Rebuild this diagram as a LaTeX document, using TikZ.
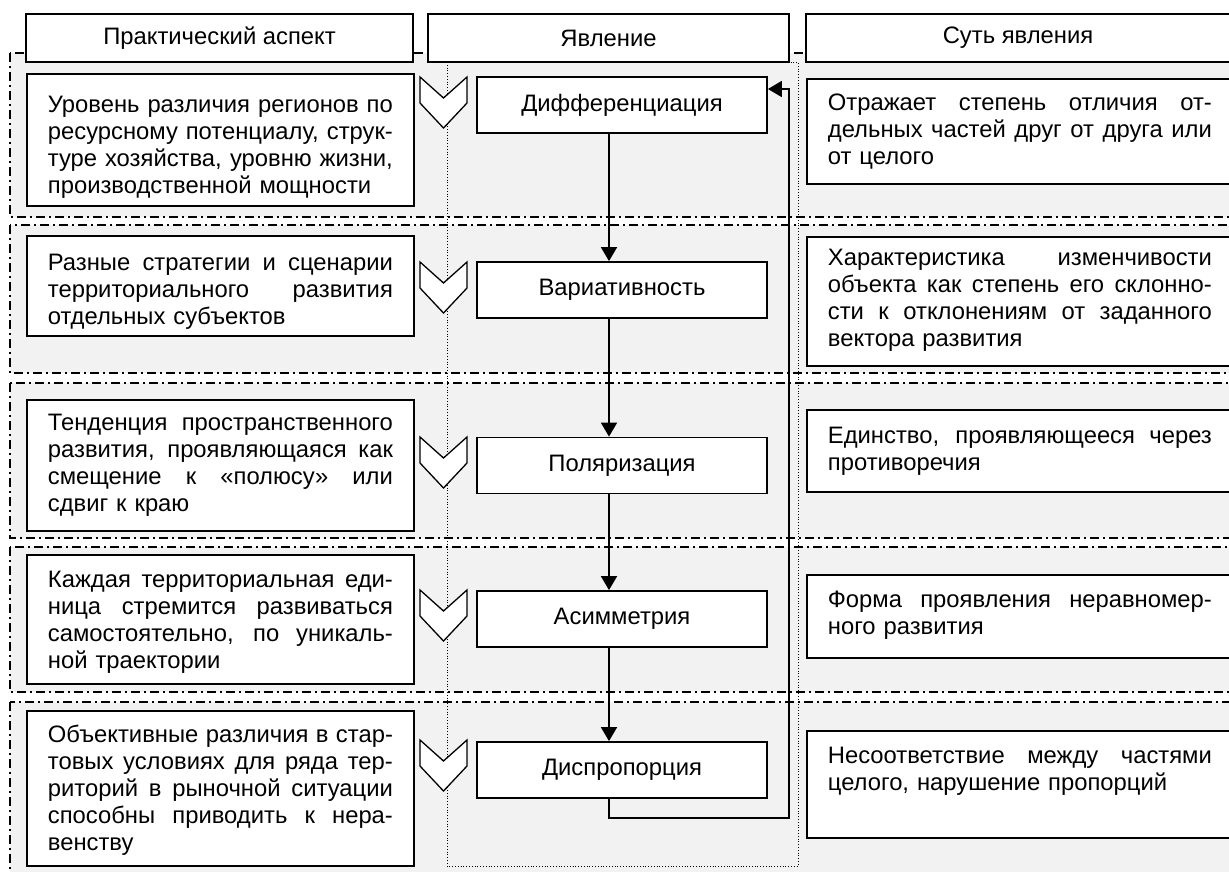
\documentclass[tikz,border=0pt]{standalone}
\usepackage{fontspec}
\setmainfont{Liberation Sans}
\usetikzlibrary{calc,arrows.meta}
\definecolor{bandgray}{HTML}{F2F2F2}
\def\chevron(#1,#2){\draw[line width=1.3pt, fill=white] (#1-23.5,#2) -- (#1,#2+21) -- (#1+23.5,#2) -- (#1+23.5,#2+26) -- (#1,#2+51) -- (#1-23.5,#2+26) -- cycle;}
% justified lines, left and right columns
\newcommand\jl[1]{\leavevmode\hbox to 345pt{\spaceskip=0.278em plus 1fil\relax #1}}
\newcommand\jr[1]{\leavevmode\hbox to 384pt{\spaceskip=0.278em plus 1fil\relax #1}}
\tikzset{
  band/.style={fill=bandgray, line width=1.2pt, dash pattern=on 9pt off 4pt on 2pt off 4pt},
  head/.style={draw, line width=1.8pt, fill=white, minimum height=48pt, inner sep=0pt, font=\fontsize{23.8}{27}\selectfont},
  midbox/.style={draw, line width=1.8pt, fill=white, minimum width=290pt, minimum height=56pt, inner sep=0pt, font=\fontsize{23.8}{27}\selectfont},
  txtbox/.style={draw, line width=1.8pt, fill=white, anchor=north west, inner xsep=21pt, inner ysep=0pt, align=left, font=\fontsize{23.8}{27}\selectfont},
  flow/.style={line width=1.8pt, -{Triangle[length=14pt,width=16pt]}},
}

\begin{document}
\begin{tikzpicture}[x=1pt, y=-1pt]
			%%%%% START %%%%%
			\clip (0,0) rectangle (1229,871);
			
			% rows
			\foreach \t/\b in {53/217, 225/373, 383/538, 547/692, 702/890}
				\draw[band] (10,\t) rectangle (1240,\b);
			\draw[dotted, line width=0.8pt] (447,62) rectangle (798,866);
			
			% column heads
			\node[head, minimum width=387pt] (hleft) at (219.5,38) {Практический аспект};
			\node[head, minimum width=361pt] (hmid) at (608.5,38) {Явление};
			\node[head, minimum width=424pt] (hright) at (1018,38) {Суть явления};
			
			% practical aspect
			\node[txtbox, text width=345pt, text height=39pt, text depth=93pt] (p1) at (26,73)
				{\jl{Уровень различия регионов по}\\ \jl{ресурсному потенциалу, струк-}\\ \jl{туре хозяйства, уровню жизни,}\\ производственной мощности};
			\node[txtbox, text width=345pt, text height=35pt, text depth=65pt] (p2) at (26,235)
				{\jl{Разные стратегии и сценарии}\\ \jl{территориального развития}\\ отдельных субъектов};
			\node[txtbox, text width=345pt, text height=31pt, text depth=100pt] (p3) at (26,399)
				{\jl{Тенденция пространственного}\\ \jl{развития, проявляющаяся как}\\ \jl{смещение к «полюсу» или}\\ сдвиг к краю};
			\node[txtbox, text width=345pt, text height=33pt, text depth=96pt] (p4) at (26,554)
				{\jl{Каждая территориальная еди-}\\ \jl{ница стремится развиваться}\\ \jl{самостоятельно, по уникаль-}\\ ной траектории};
			\node[txtbox, text width=345pt, text height=32pt, text depth=123pt] (p5) at (26,710)
				{\jl{Объективные различия в стар-}\\ \jl{товых условиях для ряда тер-}\\ \jl{риторий в рыночной ситуации}\\ \jl{способны приводить к нера-}\\ венству};
			
			% essence
			\node[txtbox, text width=384pt, text height=32pt, text depth=73pt] (s1) at (806,78)
				{\jr{Отражает степень отличия от-}\\ \jr{дельных частей друг от друга или}\\ от целого};
			\node[txtbox, text width=384pt, text height=29pt, text depth=100pt] (s2) at (806,236)
				{\jr{Характеристика изменчивости}\\ \jr{объекта как степень его склонно-}\\ \jr{сти к отклонениям от заданного}\\ вектора развития};
			\node[txtbox, text width=384pt, text height=34pt, text depth=48pt] (s3) at (806,409)
				{\jr{Единство, проявляющееся через}\\ противоречия};
			\node[txtbox, text width=384pt, text height=33pt, text depth=50pt] (s4) at (806,574)
				{\jr{Форма проявления неравномер-}\\ ного развития};
			\node[txtbox, text width=384pt, text height=33pt, text depth=74pt] (s5) at (806,730)
				{\jr{Несоответствие между частями}\\ целого, нарушение пропорций};
			
			% phenomena
			\node[midbox] (m1) at (622,105) {Дифференциация};
			\node[midbox] (m2) at (622,290) {Вариативность};
			\node[midbox] (m3) at (622,465.5) {Поляризация};
			\node[midbox] (m4) at (622,619) {Асимметрия};
			\node[midbox] (m5) at (622,770) {Диспропорция};
			
			\foreach \y in {77, 262, 437, 590, 740}
				{\chevron(443.5,\y)}
			
			% links
			\draw[flow] ([xshift=-13pt]m1.south) -- ([xshift=-13pt]m2.north);
			\draw[flow] ([xshift=-13pt]m2.south) -- ([xshift=-13pt]m3.north);
			\draw[flow] ([xshift=-13pt]m3.south) -- ([xshift=-13pt]m4.north);
			\draw[flow] ([xshift=-13pt]m4.south) -- ([xshift=-13pt]m5.north);
			\coordinate (back) at (789,818);
			\draw[flow] ([xshift=-13pt]m5.south) |- (back) |- ([yshift=16pt]m1.east);
			
			%%%%% END %%%%%
\end{tikzpicture}
\end{document}
